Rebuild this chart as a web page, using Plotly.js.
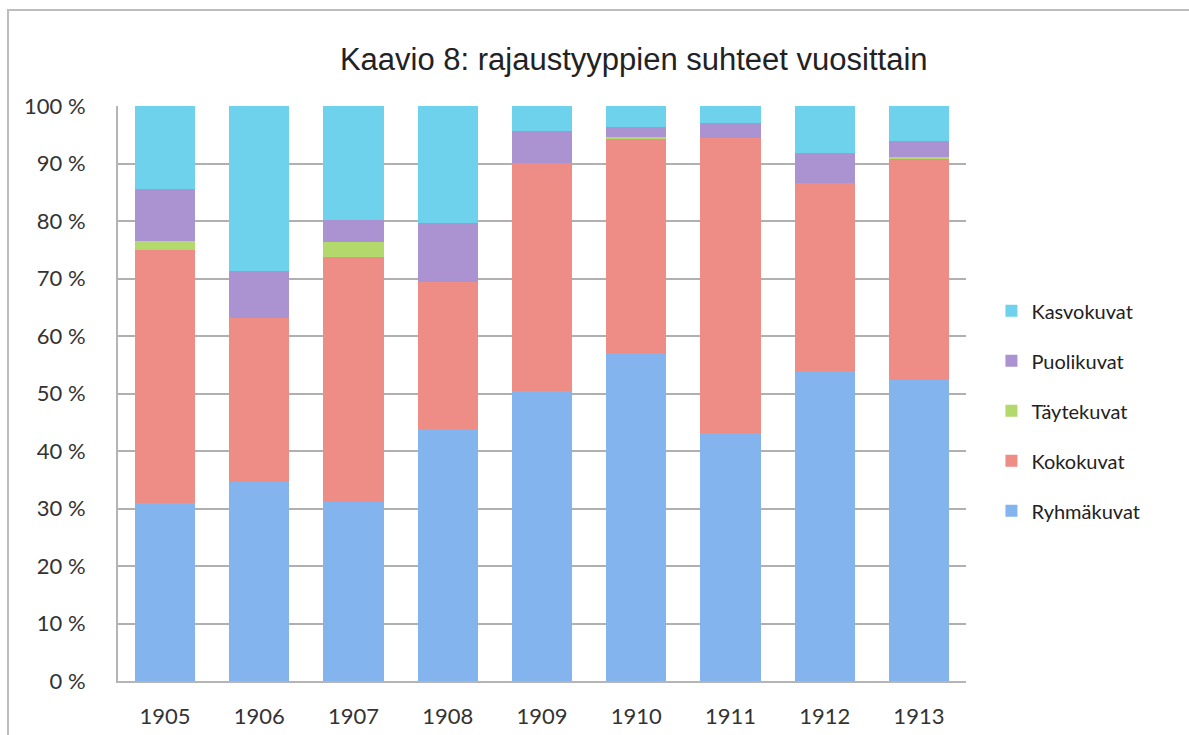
<!DOCTYPE html>
<html>
<head>
<meta charset="utf-8">
<script src="https://cdn.plot.ly/plotly-3.0.1.min.js"></script>
<style>html,body{margin:0;padding:0;background:#fff;}#chart{width:1189px;height:735px;}</style>
</head>
<body>
<div id="chart"></div>
<script>
const years = ['1905','1906','1907','1908','1909','1910','1911','1912','1913'];
const ryhmakuvat = [30.9, 34.6, 31.2, 43.8, 50.5, 57.1, 43.1, 54.0, 52.4];
const kokokuvat  = [44.1, 28.6, 42.6, 25.6, 39.6, 37.1, 51.4, 32.6, 38.4];
const taytekuvat = [1.5, 0, 2.5, 0, 0, 0.4, 0, 0, 0.3];
const puolikuvat = [9.1, 8.1, 3.9, 10.2, 5.6, 1.8, 2.6, 5.25, 2.8];
const kasvokuvat = [14.4, 28.7, 19.8, 20.4, 4.3, 3.6, 2.9, 8.15, 6.1];
const yTicks = [0,10,20,30,40,50,60,70,80,90,100];
const yTickText = ['0 %','10 %','20 %','30 %','40 %','50 %','60 %','70 %','80 %','90 %','100 %'];

const series = [
  {name:'Ryhmäkuvat', y:ryhmakuvat, color:'#84b4ee'},
  {name:'Kokokuvat', y:kokokuvat, color:'#ee8d85'},
  {name:'Täytekuvat', y:taytekuvat, color:'#b3d86c'},
  {name:'Puolikuvat', y:puolikuvat, color:'#ab93d1'},
  {name:'Kasvokuvat', y:kasvokuvat, color:'#6fd2ec'}
];
const traces = series.map((s,i) => ({
  type:'bar', x:years, y:s.y, name:s.name, legendgroup:'g'+i, legendrank: series.length - i,
  marker:{color:s.color, line:{width:0}}, hoverinfo:'name+y'
}));

const tickFont = {family:'Lato, Open Sans', size:22, color:'#333'};
const layout = {
  width:1189, height:735,
  margin:{l:118, r:223, t:106, b:54},
  paper_bgcolor:'#fff', plot_bgcolor:'#fff',
  barmode:'stack', bargap:0.36,
  title:{text:'Kaavio 8: rajaustyyppien suhteet vuosittain', x:0.533, xanchor:'center', y:0.92, yanchor:'middle',
         font:{family:'Liberation Sans, Arial', size:31, color:'#222'}},
  xaxis:{type:'category', tickfont:tickFont, ticklabelstandoff:15,
         showline:true, linecolor:'#b5b5b5', linewidth:2, ticks:'', ticklen:0, showgrid:false},
  yaxis:{range:[0,100], tickvals:yTicks, ticktext:yTickText, tickfont:tickFont, ticklabelstandoff:26,
         showgrid:true, gridcolor:'#b0b0b0', gridwidth:2, zeroline:false,
         showline:true, linecolor:'#b5b5b5', linewidth:2, ticks:'', ticklen:0},
  legend:{x:1.03, xanchor:'left', y:0.47, yanchor:'middle', traceorder:'grouped', tracegroupgap:21,
          font:{family:'Lato, Open Sans', size:20, color:'#222'}, itemwidth:30},
  showlegend:true,
  shapes:[{type:'rect', xref:'paper', yref:'paper', x0:-0.1297, x1:1.6, y0:-0.3, y1:1.167,
           line:{color:'#bdbdbd', width:2}, fillcolor:'rgba(0,0,0,0)', layer:'below'}]
};
Plotly.newPlot('chart', traces, layout, {displayModeBar:false, staticPlot:true});
</script>
</body>
</html>
